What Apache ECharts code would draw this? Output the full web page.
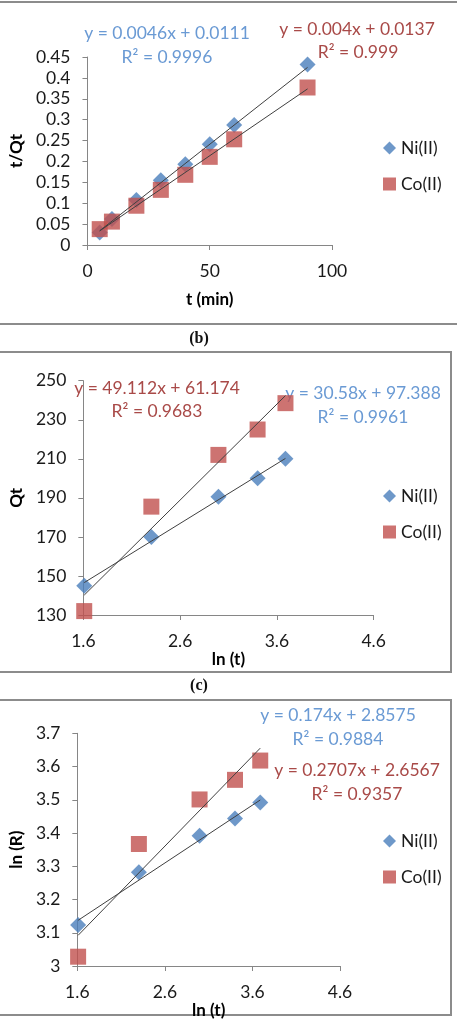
<!DOCTYPE html>
<html>
<head>
<meta charset="utf-8">
<script src="https://cdn.jsdelivr.net/npm/echarts@6/dist/echarts.min.js"></script>
<style>
  html, body { margin: 0; padding: 0; background: #fff; }
  #main { width: 457px; height: 1030px; }
</style>
</head>
<body>
<div id="main"></div>
<script>
// panel (b): t/Qt against t
var tMin = [5, 10, 20, 30, 40, 50, 60, 90];
var niTQt = [0.03, 0.062, 0.108, 0.155, 0.193, 0.241, 0.287, 0.432];
var coTQt = [0.038, 0.056, 0.094, 0.132, 0.168, 0.211, 0.253, 0.377];
// panel (c) and (d): against ln(t)
var lnT = [1.609, 2.303, 2.996, 3.401, 3.689];
var niQt = [145, 170, 190.5, 200, 210];
var coQt = [132, 185.5, 212, 225, 238.5];
var niLnR = [3.123, 3.282, 3.392, 3.444, 3.492];
var coLnR = [3.028, 3.367, 3.501, 3.56, 3.618];

// trend lines [slope, intercept] and R²
var niFitB = [0.0046, 0.0111], coFitB = [0.004, 0.0137];
var niFitC = [30.58, 97.388], coFitC = [49.112, 61.174];
var niFitD = [0.174, 2.8575], coFitD = [0.2707, 2.6567];
var niR2 = [0.9996, 0.9961, 0.9884];
var coR2 = [0.999, 0.9683, 0.9357];

var seriesNames = ['Ni(II)', 'Co(II)'];

var FONT = 'Lato, "Open Sans", sans-serif';
var BLUE = '#4A7EBB', RED = '#C0504D';
var BLUE_TXT = '#6A9AD4', RED_TXT = '#A94A48';

document.addEventListener('DOMContentLoaded', function() {
    var myChart = echarts.init(document.getElementById('main'));

    function pts(xs, ys) {
        return xs.map(function(x, i) { return [x, ys[i]]; });
    }
    function fitLine(xs, fit) {
        var x0 = Math.min.apply(null, xs), x1 = Math.max.apply(null, xs);
        return [[x0, fit[0] * x0 + fit[1]], [x1, fit[0] * x1 + fit[1]]];
    }
    function eqText(fit) {
        return 'y = ' + fit[0] + 'x + ' + fit[1];
    }

    var axisCommon = {
        splitLine: { show: false },
        axisLine: { show: true, lineStyle: { color: '#868686', width: 1 } },
        axisTick: { show: true, inside: false, length: 5, lineStyle: { color: '#868686' } },
        axisLabel: { color: '#1a1a1a', fontSize: 17.5, fontFamily: FONT, margin: 17 },
        nameLocation: 'middle',
        nameTextStyle: { color: '#000', fontSize: 17, fontWeight: 'bold', fontFamily: FONT }
    };
    function ax(extra) {
        return Object.assign({}, axisCommon, extra);
    }

    function scatter(name, idx, data, isNi) {
        return {
            name: name, type: 'scatter', xAxisIndex: idx, yAxisIndex: idx,
            data: data,
            symbol: isNi ? 'diamond' : 'rect',
            symbolSize: isNi ? 16 : 16,
            itemStyle: { color: isNi ? BLUE : RED },
            z: 2
        };
    }
    function trend(idx, data) {
        return {
            type: 'line', xAxisIndex: idx, yAxisIndex: idx,
            data: data, symbol: 'none', silent: true,
            lineStyle: { color: '#404040', width: 1 },
            z: 3
        };
    }

    function legendAt(top) {
        return {
            orient: 'vertical', left: 378, top: top,
            itemWidth: 13, itemHeight: 13, itemGap: 18,
            textStyle: { color: '#1a1a1a', fontSize: 17.5, fontFamily: FONT },
            data: [{ name: seriesNames[0], icon: 'diamond' }, { name: seriesNames[1], icon: 'rect' }]
        };
    }

    function label(text, x, y, color) {
        return {
            type: 'text', x: x, y: y,
            style: {
                text: text, fill: color, font: '17.5px ' + FONT,
                align: 'center', verticalAlign: 'middle',
                textAlign: 'center', textVerticalAlign: 'middle'
            }
        };
    }
    function hline(y) {
        return { type: 'line', shape: { x1: 0, y1: y, x2: 457, y2: y },
                 style: { stroke: '#8c8c8c', lineWidth: 2 } };
    }
    function box(y1, y2) {
        return { type: 'rect', shape: { x: -1, y: y1, width: 452, height: y2 - y1 },
                 style: { fill: 'none', stroke: '#8c8c8c', lineWidth: 2 } };
    }
    function caption(text, y) {
        return {
            type: 'text', x: 199, y: y,
            style: {
                text: text, fill: '#111', font: 'bold 16px "Liberation Serif", serif',
                align: 'center', verticalAlign: 'middle',
                textAlign: 'center', textVerticalAlign: 'middle'
            }
        };
    }

    var option = {
        animation: false,
        backgroundColor: '#fff',
        grid: [
            { left: 82, top: 57, width: 250, height: 188 },
            { left: 67, top: 380.7, width: 306.6, height: 234.3 },
            { left: 69.3, top: 733.3, width: 270.7, height: 232.7 }
        ],
        xAxis: [
            ax({ gridIndex: 0, type: 'value', min: 0, max: 100, interval: 50, name: 't (min)', nameGap: 46 }),
            ax({ gridIndex: 1, type: 'value', min: 1.6, max: 4.6, interval: 1, name: 'ln (t)', nameGap: 33 }),
            ax({ gridIndex: 2, type: 'value', min: 1.6, max: 4.6, interval: 1, name: 'ln (t)', nameGap: 26 })
        ],
        yAxis: [
            ax({ gridIndex: 0, type: 'value', min: 0, max: 0.45, interval: 0.05, name: 't/Qt', nameGap: 56 }),
            ax({ gridIndex: 1, type: 'value', min: 130, max: 250, interval: 20, name: 'Qt', nameGap: 44 }),
            ax({ gridIndex: 2, type: 'value', min: 3, max: 3.7, interval: 0.1, name: 'ln (R)', nameGap: 46 })
        ],
        legend: [legendAt(134), legendAt(482), legendAt(827)],
        series: [
            scatter(seriesNames[0], 0, pts(tMin, niTQt), true),
            scatter(seriesNames[1], 0, pts(tMin, coTQt), false),
            trend(0, fitLine(tMin, niFitB)),
            trend(0, fitLine(tMin, coFitB)),

            scatter(seriesNames[0], 1, pts(lnT, niQt), true),
            scatter(seriesNames[1], 1, pts(lnT, coQt), false),
            trend(1, fitLine(lnT, niFitC)),
            trend(1, fitLine(lnT, coFitC)),

            scatter(seriesNames[0], 2, pts(lnT, niLnR), true),
            scatter(seriesNames[1], 2, pts(lnT, coLnR), false),
            trend(2, fitLine(lnT, niFitD)),
            trend(2, fitLine(lnT, coFitD))
        ],
        graphic: [
            hline(2), hline(324),
            box(352, 672), box(700, 1015),
            caption('(b)', 339), caption('(c)', 686),

            label(eqText(niFitB), 167, 33, BLUE_TXT),
            label('R² = ' + niR2[0], 167, 57, BLUE_TXT),
            label(eqText(coFitB), 357, 29, RED_TXT),
            label('R² = ' + coR2[0], 358, 52, RED_TXT),

            label(eqText(coFitC), 157, 388, RED_TXT),
            label('R² = ' + coR2[1], 157, 411, RED_TXT),
            label(eqText(niFitC), 363, 393, BLUE_TXT),
            label('R² = ' + niR2[1], 363, 417, BLUE_TXT),

            label(eqText(niFitD), 338, 715, BLUE_TXT),
            label('R² = ' + niR2[2], 338, 739, BLUE_TXT),
            label(eqText(coFitD), 357, 770, RED_TXT),
            label('R² = ' + coR2[2], 357, 794, RED_TXT)
        ]
    };

    option && myChart.setOption(option);
});
</script>
</body>
</html>
